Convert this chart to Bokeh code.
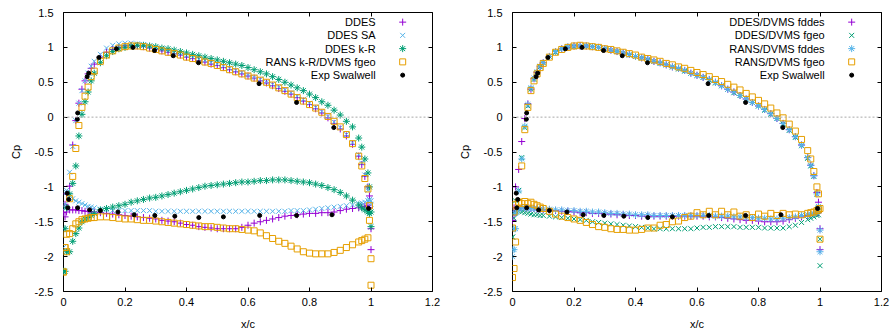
from bokeh.plotting import figure
from bokeh.layouts import row
from bokeh.models import Range1d, Span, Label, LinearAxis, FixedTicker, ColumnDataSource
from bokeh.embed import file_html
from bokeh.resources import INLINE

# ---------------- data ----------------
X_TICKS = [0, 0.2, 0.4, 0.6, 0.8, 1.0, 1.2]
X_TICK_LABELS = ["0", "0.2", "0.4", "0.6", "0.8", "1", "1.2"]
Y_TICKS = [-2.5, -2, -1.5, -1, -0.5, 0, 0.5, 1, 1.5]
Y_TICK_LABELS = ["-2.5", "-2", "-1.5", "-1", "-0.5", "0", "0.5", "1", "1.5"]

# chordwise stations of the simulation samples
X_ST = [0.0, 0.005, 0.01, 0.02, 0.03, 0.04, 0.05, 0.06, 0.07, 0.08, 0.09,
        0.10, 0.12, 0.14, 0.16, 0.18, 0.20, 0.22, 0.24, 0.26, 0.28,
        0.30, 0.32, 0.34, 0.36, 0.38, 0.40, 0.42, 0.44, 0.46, 0.48,
        0.50, 0.52, 0.54, 0.56, 0.58, 0.60, 0.62, 0.64, 0.66, 0.68,
        0.70, 0.72, 0.74, 0.76, 0.78, 0.80, 0.82, 0.84, 0.86, 0.88,
        0.90, 0.92, 0.94, 0.96, 0.97, 0.98, 0.99, 0.995, 1.0]

# ---- left panel ----
DDES_UP = [-1.37, -1.25, -1.10, -0.99, -0.40, -0.05, 0.20, 0.40, 0.52, 0.62, 0.70,
           0.76, 0.86, 0.93, 0.97, 1.00, 1.02, 1.03, 1.02, 1.01, 0.99,
           0.97, 0.95, 0.93, 0.91, 0.89, 0.86, 0.84, 0.81, 0.79, 0.76,
           0.74, 0.71, 0.68, 0.65, 0.62, 0.59, 0.56, 0.52, 0.49, 0.45,
           0.41, 0.37, 0.33, 0.28, 0.23, 0.18, 0.12, 0.06, -0.01, -0.09,
           -0.17, -0.27, -0.39, -0.56, -0.68, -0.85, -1.00, -1.13, -1.90]
DDES_LO = [-1.37, -1.43, -1.36, -1.33, -1.33, -1.33, -1.34, -1.34, -1.35, -1.35, -1.36,
           -1.36, -1.37, -1.38, -1.39, -1.40, -1.41, -1.42, -1.43, -1.44, -1.45,
           -1.46, -1.48, -1.49, -1.50, -1.52, -1.54, -1.55, -1.57, -1.58, -1.59,
           -1.60, -1.60, -1.60, -1.60, -1.58, -1.55, -1.52, -1.50, -1.48, -1.46,
           -1.44, -1.42, -1.41, -1.40, -1.39, -1.38, -1.38, -1.37, -1.37, -1.36,
           -1.34, -1.32, -1.31, -1.30, -1.29, -1.28, -1.27, -1.30, -1.60]
SA_UP = [-1.60, -1.25, -1.05, -0.79, -0.42, -0.05, 0.20, 0.38, 0.52, 0.63, 0.73,
         0.80, 0.90, 0.99, 1.03, 1.05, 1.06, 1.06, 1.05, 1.04, 1.02,
         1.00, 0.98, 0.95, 0.93, 0.91, 0.88, 0.86, 0.83, 0.81, 0.78,
         0.76, 0.73, 0.70, 0.67, 0.64, 0.60, 0.57, 0.54, 0.50, 0.47,
         0.43, 0.39, 0.35, 0.30, 0.25, 0.20, 0.14, 0.08, 0.01, -0.07,
         -0.15, -0.25, -0.37, -0.54, -0.66, -0.83, -1.05, -1.20, -1.25]
SA_LO = [-1.87, -1.30, -1.08, -1.12, -1.17, -1.20, -1.22, -1.24, -1.26, -1.28, -1.29,
         -1.30, -1.32, -1.33, -1.34, -1.34, -1.34, -1.34, -1.34, -1.34, -1.34,
         -1.35, -1.35, -1.35, -1.35, -1.35, -1.35, -1.35, -1.35, -1.35, -1.35,
         -1.35, -1.35, -1.35, -1.35, -1.35, -1.35, -1.35, -1.35, -1.35, -1.35,
         -1.35, -1.35, -1.34, -1.34, -1.34, -1.33, -1.32, -1.31, -1.30, -1.29,
         -1.28, -1.27, -1.26, -1.24, -1.23, -1.22, -1.20, -1.18, -1.20]
KR_UP = [-2.21, -1.60, -1.30, -1.10, -0.95, -0.70, -0.27, 0.04, 0.22, 0.36, 0.52,
         0.63, 0.78, 0.88, 0.94, 0.98, 1.00, 1.02, 1.03, 1.03, 1.02,
         1.01, 0.99, 0.98, 0.96, 0.94, 0.92, 0.90, 0.88, 0.86, 0.84,
         0.82, 0.80, 0.78, 0.76, 0.74, 0.71, 0.68, 0.65, 0.62, 0.58,
         0.54, 0.50, 0.46, 0.42, 0.38, 0.33, 0.28, 0.22, 0.17, 0.10,
         0.03, -0.06, -0.14, -0.30, -0.43, -0.60, -0.80, -1.00, -1.57]
KR_LO = [-2.21, -2.21, -1.93, -1.93, -1.78, -1.67, -1.59, -1.50, -1.46, -1.44, -1.41,
         -1.38, -1.33, -1.31, -1.29, -1.27, -1.25, -1.22, -1.20, -1.18, -1.16,
         -1.15, -1.13, -1.11, -1.09, -1.07, -1.05, -1.03, -1.01, -0.99, -0.98,
         -0.97, -0.96, -0.95, -0.94, -0.93, -0.93, -0.92, -0.91, -0.91, -0.90,
         -0.90, -0.90, -0.91, -0.92, -0.93, -0.94, -0.96, -0.98, -1.01, -1.04,
         -1.08, -1.13, -1.19, -1.26, -1.30, -1.33, -1.36, -1.38, -1.36]
RKR_UP = [-2.22, -1.87, -1.68, -1.17, -0.85, -0.45, -0.12, 0.14, 0.30, 0.43, 0.58,
          0.66, 0.80, 0.89, 0.95, 0.99, 1.01, 1.02, 1.02, 1.01, 0.99,
          0.97, 0.95, 0.93, 0.91, 0.89, 0.86, 0.84, 0.82, 0.79, 0.77,
          0.74, 0.71, 0.68, 0.65, 0.62, 0.59, 0.56, 0.53, 0.50, 0.46,
          0.42, 0.38, 0.33, 0.28, 0.23, 0.18, 0.13, 0.07, 0.01, -0.06,
          -0.14, -0.25, -0.38, -0.56, -0.70, -0.88, -1.03, -1.27, -2.41]
RKR_LO = [-2.22, -1.87, -1.93, -1.67, -1.60, -1.53, -1.50, -1.47, -1.46, -1.45, -1.44,
          -1.44, -1.43, -1.43, -1.44, -1.45, -1.46, -1.46, -1.47, -1.48, -1.48,
          -1.49, -1.50, -1.51, -1.52, -1.53, -1.54, -1.55, -1.56, -1.57, -1.57,
          -1.58, -1.59, -1.60, -1.60, -1.61, -1.62, -1.63, -1.66, -1.70, -1.74,
          -1.78, -1.81, -1.85, -1.89, -1.93, -1.95, -1.96, -1.96, -1.96, -1.94,
          -1.91, -1.87, -1.83, -1.79, -1.77, -1.75, -1.73, -1.48, -2.03]

# ---- right panel ----
FDDES_UP = [-1.48, -1.30, -1.00, -0.75, -0.35, -0.02, 0.19, 0.40, 0.55, 0.64, 0.72,
            0.78, 0.87, 0.94, 0.98, 1.00, 1.02, 1.02, 1.02, 1.01, 1.00,
            0.98, 0.96, 0.94, 0.92, 0.90, 0.87, 0.85, 0.83, 0.80, 0.78,
            0.75, 0.72, 0.70, 0.67, 0.63, 0.60, 0.57, 0.54, 0.50, 0.45,
            0.40, 0.36, 0.31, 0.26, 0.21, 0.16, 0.11, 0.05, -0.02, -0.09,
            -0.18, -0.28, -0.40, -0.58, -0.69, -0.84, -1.08, -1.22, -1.90]
FDDES_LO = [-1.48, -1.40, -1.35, -1.31, -1.30, -1.30, -1.30, -1.31, -1.31, -1.32, -1.32,
            -1.33, -1.33, -1.34, -1.35, -1.35, -1.36, -1.37, -1.37, -1.38, -1.38,
            -1.39, -1.39, -1.40, -1.40, -1.41, -1.41, -1.42, -1.42, -1.42, -1.42,
            -1.42, -1.42, -1.42, -1.42, -1.42, -1.42, -1.42, -1.43, -1.43, -1.44,
            -1.45, -1.46, -1.47, -1.48, -1.48, -1.49, -1.50, -1.50, -1.50, -1.49,
            -1.47, -1.45, -1.43, -1.41, -1.40, -1.39, -1.38, -1.37, -1.60]
FGEO_UP = [-1.72, -1.38, -1.20, -1.05, -0.58, -0.15, 0.16, 0.40, 0.54, 0.64, 0.72,
           0.78, 0.87, 0.93, 0.98, 1.00, 1.01, 1.02, 1.02, 1.01, 1.00,
           0.98, 0.96, 0.94, 0.92, 0.89, 0.87, 0.85, 0.82, 0.80, 0.77,
           0.75, 0.72, 0.69, 0.66, 0.63, 0.60, 0.57, 0.53, 0.49, 0.45,
           0.40, 0.35, 0.31, 0.26, 0.21, 0.16, 0.10, 0.04, -0.02, -0.10,
           -0.19, -0.29, -0.41, -0.59, -0.70, -0.85, -1.10, -1.30, -2.13]
FGEO_LO = [-1.72, -1.45, -1.36, -1.35, -1.36, -1.37, -1.38, -1.39, -1.40, -1.40, -1.41,
           -1.41, -1.42, -1.43, -1.44, -1.45, -1.46, -1.47, -1.48, -1.50, -1.51,
           -1.52, -1.53, -1.54, -1.55, -1.56, -1.57, -1.58, -1.59, -1.60, -1.60,
           -1.60, -1.60, -1.60, -1.60, -1.60, -1.59, -1.58, -1.58, -1.57, -1.57,
           -1.57, -1.57, -1.58, -1.58, -1.58, -1.58, -1.59, -1.59, -1.59, -1.59,
           -1.57, -1.55, -1.51, -1.47, -1.45, -1.43, -1.41, -1.40, -1.75]
RFDDES_UP = [-2.00, -1.90, -1.60, -1.06, -0.60, -0.13, 0.18, 0.42, 0.56, 0.65, 0.73,
             0.78, 0.87, 0.94, 0.98, 1.01, 1.02, 1.02, 1.02, 1.01, 1.00,
             0.98, 0.96, 0.94, 0.92, 0.90, 0.87, 0.85, 0.83, 0.80, 0.78,
             0.75, 0.72, 0.70, 0.67, 0.63, 0.60, 0.57, 0.54, 0.50, 0.45,
             0.40, 0.36, 0.31, 0.26, 0.21, 0.16, 0.11, 0.05, -0.02, -0.09,
             -0.18, -0.28, -0.40, -0.58, -0.69, -0.84, -1.10, -1.28, -1.93]
RFDDES_LO = [-1.90, -1.60, -1.38, -1.32, -1.30, -1.30, -1.30, -1.31, -1.31, -1.31, -1.32,
             -1.32, -1.32, -1.33, -1.33, -1.34, -1.34, -1.35, -1.35, -1.36, -1.36,
             -1.37, -1.38, -1.38, -1.39, -1.39, -1.40, -1.40, -1.40, -1.41, -1.41,
             -1.41, -1.41, -1.41, -1.41, -1.41, -1.41, -1.41, -1.41, -1.42, -1.42,
             -1.42, -1.43, -1.43, -1.44, -1.44, -1.45, -1.45, -1.46, -1.46, -1.45,
             -1.44, -1.43, -1.41, -1.40, -1.39, -1.38, -1.36, -1.35, -1.62]
RFGEO_UP = [-2.30, -2.17, -1.79, -1.22, -0.70, -0.18, 0.14, 0.38, 0.52, 0.62, 0.71,
            0.77, 0.86, 0.93, 0.97, 1.00, 1.02, 1.03, 1.02, 1.01, 1.00,
            0.98, 0.97, 0.95, 0.93, 0.91, 0.89, 0.86, 0.84, 0.82, 0.80,
            0.77, 0.75, 0.72, 0.70, 0.67, 0.64, 0.61, 0.58, 0.54, 0.51,
            0.47, 0.43, 0.39, 0.34, 0.29, 0.24, 0.19, 0.13, 0.06, -0.01,
            -0.10, -0.20, -0.32, -0.48, -0.60, -0.78, -1.00, -1.10, -1.75]
RFGEO_LO = [-1.59, -1.36, -1.25, -1.22, -1.24, -1.21, -1.24, -1.22, -1.25, -1.27, -1.29,
            -1.31, -1.35, -1.39, -1.42, -1.44, -1.46, -1.48, -1.51, -1.54, -1.57,
            -1.58, -1.60, -1.61, -1.61, -1.62, -1.62, -1.61, -1.59, -1.59, -1.55,
            -1.54, -1.50, -1.49, -1.44, -1.42, -1.37, -1.40, -1.35, -1.40, -1.35,
            -1.40, -1.36, -1.42, -1.40, -1.44, -1.39, -1.42, -1.38, -1.41, -1.38,
            -1.40, -1.39, -1.40, -1.38, -1.37, -1.36, -1.34, -1.33, -1.31]

# ---- experiment (Swalwell) ----
EXP_X = [0.045, 0.046, 0.077, 0.082, 0.115, 0.172, 0.226, 0.296, 0.357, 0.439,
         0.636, 0.758, 0.879,
         0.012, 0.017, 0.014, 0.046, 0.085, 0.120, 0.177, 0.230, 0.297, 0.362,
         0.440, 0.520, 0.638, 0.758, 0.873, 0.992]
EXP_CP = [-0.03, 0.06, 0.58, 0.63, 0.855, 0.98, 1.00, 0.955, 0.88, 0.78,
          0.48, 0.21, -0.15,
          -1.09, -1.18, -1.30, -1.30, -1.33, -1.34, -1.36, -1.40, -1.41, -1.42,
          -1.44, -1.43, -1.41, -1.41, -1.40, -1.31]

LEFT_NAMES = ["DDES", "DDES SA", "DDES k-R", "RANS k-R/DVMS fgeo", "Exp Swalwell"]
RIGHT_NAMES = ["DDES/DVMS fddes", "DDES/DVMS fgeo", "RANS/DVMS fddes", "RANS/DVMS fgeo", "Exp Swalwell"]

PURPLE, LBLUE, GREEN, ORANGE, BLACK = "#9400D3", "#56B4E9", "#009E73", "#E69F00", "#000000"

FONT = "Liberation Sans"
FS = "11px"
H = 332


def style(marker, color):
    if marker == "square":
        return dict(marker="square", size=6, line_color=color, fill_color=None, line_width=1)
    if marker == "circle":
        return dict(marker="circle", size=4, line_color=color, fill_color=color, line_width=1)
    return dict(marker=marker, size=7, line_color=color, line_width=1)


def mirror_axis(ticks):
    return LinearAxis(ticker=FixedTicker(ticks=ticks), major_label_text_font_size="1px",
                      major_label_text_color=None, major_label_standoff=0,
                      axis_line_color=None, major_tick_in=4, major_tick_out=0,
                      minor_tick_line_color=None, major_tick_line_color="black")


def make_fig(width, bl, br):
    p = figure(width=width, height=H, output_backend="svg", toolbar_location=None,
               x_range=Range1d(0, 1.2), y_range=Range1d(-2.5, 1.5),
               min_border_left=bl, min_border_right=br, min_border_top=12, min_border_bottom=39,
               x_axis_label="x/c", y_axis_label="Cp")
    p.grid.visible = False
    p.outline_line_color = "black"
    p.outline_line_alpha = 1
    p.outline_line_width = 1
    p.background_fill_color = "white"
    p.border_fill_color = "white"
    xa, ya = p.xaxis[0], p.yaxis[0]
    xa.ticker = FixedTicker(ticks=X_TICKS)
    ya.ticker = FixedTicker(ticks=Y_TICKS)
    xa.major_label_overrides = {t: l for t, l in zip(X_TICKS, X_TICK_LABELS)}
    ya.major_label_overrides = {t: l for t, l in zip(Y_TICKS, Y_TICK_LABELS)}
    for ax in (xa, ya):
        ax.axis_line_color = None
        ax.major_tick_in = 4
        ax.major_tick_out = 0
        ax.major_tick_line_color = "black"
        ax.minor_tick_line_color = None
        ax.major_label_text_font = FONT
        ax.major_label_text_font_size = FS
        ax.major_label_text_color = "black"
        ax.axis_label_text_font = FONT
        ax.axis_label_text_font_size = FS
        ax.axis_label_text_font_style = "normal"
        ax.axis_label_text_color = "black"
    ya.major_label_standoff = 10
    ya.axis_label_standoff = 10
    xa.major_label_standoff = 6
    xa.axis_label_standoff = 9
    p.add_layout(mirror_axis(X_TICKS), "above")
    p.add_layout(mirror_axis(Y_TICKS), "right")
    p.add_layout(Span(location=0, dimension="width", line_color="#a8a8a8",
                      line_dash="2 2", line_width=1))
    return p


def add_series(p, series, names):
    # series: list of (xs, ys, marker, color)
    leg_x_text = 1.015
    leg_x_mark = 1.103
    leg_y0 = 1.362
    leg_dy = 0.19
    for i, ((xs, ys, marker, color), name) in enumerate(zip(series, names)):
        src = ColumnDataSource(dict(x=xs, y=ys))
        p.scatter("x", "y", source=src, **style(marker, color))
        ly = leg_y0 - i * leg_dy
        p.scatter(x=[leg_x_mark], y=[ly], **style(marker, color))
        p.add_layout(Label(x=leg_x_text, y=ly, text=name, text_align="right",
                           text_baseline="middle", text_font=FONT, text_font_size=FS,
                           text_color="black"))


left = make_fig(445, 63, 13)
add_series(left, [
    (X_ST + X_ST, DDES_UP + DDES_LO, "cross", PURPLE),
    (X_ST + X_ST, SA_UP + SA_LO, "x", LBLUE),
    (X_ST + X_ST, KR_UP + KR_LO, "asterisk", GREEN),
    (X_ST + X_ST, RKR_UP + RKR_LO, "square", ORANGE),
    (EXP_X, EXP_CP, "circle", BLACK),
], LEFT_NAMES)

right = make_fig(445, 67, 9)
add_series(right, [
    (X_ST + X_ST, FDDES_UP + FDDES_LO, "cross", PURPLE),
    (X_ST + X_ST, FGEO_UP + FGEO_LO, "x", GREEN),
    (X_ST + X_ST, RFDDES_UP + RFDDES_LO, "asterisk", LBLUE),
    (X_ST + X_ST, RFGEO_UP + RFGEO_LO, "square", ORANGE),
    (EXP_X, EXP_CP, "circle", BLACK),
], RIGHT_NAMES)

layout = row(left, right)
open("out.html", "w").write(file_html(layout, INLINE))
